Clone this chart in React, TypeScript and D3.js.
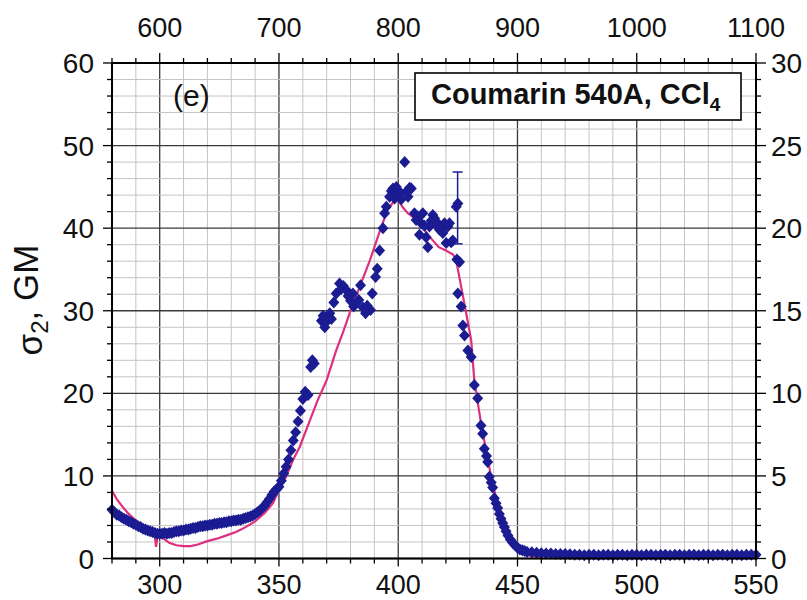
import React from "react";
import * as d3 from "d3";

const W = 807;
const H = 600;
const PL = 112, PR = 756, PT = 63, PB = 558.5;

// Axis ticks
const bottomMajor = [300, 350, 400, 450, 500, 550];
const topMajor = [600, 700, 800, 900, 1000, 1100];
const leftMajor = [0, 10, 20, 30, 40, 50, 60];
const rightMajor = [0, 5, 10, 15, 20, 25, 30];

// Measured two-photon cross section (blue diamonds): wavelength (bottom axis, nm) and sigma2 (GM)
const blueWl = [
  280, 281, 282, 283, 284, 285, 286, 287, 288, 289, 290, 291, 292, 293, 294, 295, 296, 297, 298, 299,
  300, 301, 302, 303, 304, 305, 306, 307, 308, 309, 310, 311, 312, 313, 314, 315, 316, 317, 318, 319,
  320, 321, 322, 323, 324, 325, 326, 327, 328, 329, 330, 331, 332, 333, 334, 335, 336, 337, 338, 339,
  340, 341, 342, 343, 344, 345, 346, 347, 348, 349, 350, 351, 352, 353, 354, 355, 356, 357, 358, 359,
  360, 361, 362.2, 363.3, 364, 364.8, 367.8, 368.5, 369.2, 370, 371.3, 372, 373, 374, 375.4, 376, 377,
  378.2, 379, 380, 381, 381.3, 382.3, 383.5, 384.2, 385.2, 386.3, 387, 388.4, 389.1, 390.5, 391.2,
  392.2, 393.6, 394.3, 395, 396.4, 397.1, 397.8, 398.5, 399.2, 400, 400.6, 401.3, 402.7, 403.4, 404.1,
  404.8, 405.5, 406.8, 407.5, 408.2, 408.9, 409.6, 410.3, 411, 411.7, 412.4, 413.1, 413.8, 414.5, 415.2,
  415.9, 416.6, 417.3, 418, 418.7, 419.4, 420.1, 420.8, 421.5, 422.2, 422.9, 424.3, 425, 424.6, 425.7,
  425, 426.4, 427.1, 427.8, 429.2, 430.6, 431.9, 433.3, 434.7, 435.4, 436.1, 437, 437.5, 438.2, 439,
  439.6, 440.3, 441, 441.7, 442.4, 443.1, 443.8, 444.5, 445.2, 446, 447, 448, 449, 450, 451, 452, 453,
  454, 456, 458, 460, 462, 464, 466, 468, 470, 472, 474, 476, 478, 480, 482, 484, 486, 488, 490, 492,
  494, 496, 498, 500, 502, 504, 506, 508, 510, 512, 514, 516, 518, 520, 522, 524, 526, 528, 530, 532,
  534, 536, 538, 540, 542, 544, 546, 548, 550
];
const blueSigma = [
  5.9, 5.6, 5.3, 5.2, 5.0, 4.8, 4.7, 4.5, 4.4, 4.2, 4.1, 3.9, 3.8, 3.6, 3.5, 3.4, 3.3, 3.2, 3.1, 3.0,
  3.0, 3.0, 3.1, 3.0, 3.1, 3.1, 3.2, 3.3, 3.3, 3.4, 3.4, 3.5, 3.5, 3.6, 3.7, 3.7, 3.8, 3.9, 3.9, 4.0,
  4.0, 4.1, 4.1, 4.2, 4.2, 4.3, 4.3, 4.4, 4.4, 4.5, 4.5, 4.6, 4.6, 4.7, 4.7, 4.8, 4.9, 5.0, 5.1, 5.2,
  5.4, 5.6, 5.8, 6.1, 6.4, 6.8, 7.2, 7.7, 8.1, 8.4, 8.7, 9.4, 10.3, 11.1, 12.0, 13.1, 14.3, 15.3, 16.6, 17.9,
  19.3, 20.2, 19.8, 23.2, 24.0, 23.6, 28.8, 29.4, 28.0, 28.7, 29.7, 29.0, 31.0, 32.1, 33.3, 32.6, 33.0,
  32.5, 31.8, 31.2, 32.1, 30.5, 30.9, 31.3, 33.1, 30.4, 29.7, 30.6, 30.1, 32.1, 34.1, 35.1,
  37.3, 40.0, 41.8, 42.6, 43.8, 44.5, 44.8, 43.6, 45.0, 44.6, 44.2, 43.5, 48.0, 44.4, 43.8,
  44.9, 44.8, 41.8, 41.0, 41.4, 39.2, 40.6, 41.8, 40.3, 38.9, 37.7, 40.2, 40.9, 41.6, 41.2,
  40.4, 40.6, 39.8, 40.0, 39.4, 40.6, 38.2, 40.2, 40.6, 38.3, 38.5, 42.6, 43.0, 36.2, 35.9,
  32.1, 30.5, 28.2, 27.0, 25.2, 24.4, 21.0, 19.4, 16.1, 15.1, 13.3, 12.4, 11.7, 9.9, 9.2,
  8.6, 7.3, 6.7, 6.1, 5.4, 4.8, 4.3, 3.8, 3.3, 2.8, 2.3, 1.9, 1.6, 1.3, 1.1, 1.0, 0.9,
  0.8, 0.75, 0.7, 0.65, 0.6, 0.6, 0.55, 0.55, 0.55, 0.5, 0.45, 0.45, 0.4, 0.45, 0.45, 0.4, 0.45, 0.45, 0.4, 0.45,
  0.45, 0.4, 0.45, 0.45, 0.4, 0.45, 0.45, 0.4, 0.45, 0.45, 0.4, 0.45, 0.45, 0.4, 0.45, 0.45, 0.4, 0.45, 0.45, 0.4,
  0.45, 0.45, 0.4, 0.45, 0.45, 0.4, 0.45, 0.45, 0.45
];

// Error bar
const errWl = [424.9];
const errLow = [38.1];
const errHigh = [46.8];

// Reference/fit curve (pink line)
const fitWl = [
  280, 282, 284.6, 287, 290, 293, 296, 297.8, 298.5, 299.2, 300, 302, 304, 307, 310, 313, 316, 320, 324,
  328, 332, 336, 340, 344, 347.5, 350, 353, 356, 358.7, 362, 366, 370, 374, 377, 380, 384, 388, 392,
  395.5, 398, 400, 402, 404, 407, 410, 413, 417, 420, 423, 424.3, 426, 428.5, 430.6, 431.9, 434.7,
  438.2, 440, 443.7, 446, 448, 450, 453, 456, 460
];
const fitSigma = [
  8.2, 7.2, 6.2, 5.4, 4.6, 3.9, 3.3, 3.0, 1.4, 3.0, 2.9, 2.3, 1.9, 1.6, 1.5, 1.5, 1.7, 2.1, 2.4,
  2.8, 3.2, 3.8, 4.5, 5.5, 6.7, 8.3, 9.9, 12.0, 13.5, 16.0, 19.0, 21.6, 25.2, 27.5, 30.0, 33.0, 36.0, 39.4,
  42.2, 43.2, 43.4, 42.5, 41.8, 41.2, 40.2, 39.0, 37.7, 37.3, 36.8, 36.1, 33.5, 29.7, 26.4, 21.6, 16.4,
  11.0, 8.5, 4.6, 2.8, 1.7, 1.0, 0.5, 0.3, 0.2
];

const FONT = "Arial, 'Liberation Sans', Helvetica, sans-serif";
const BLUE = "#1b1b92";
const PINK = "#de2f7f";

export default function App() {
  const x = d3.scaleLinear().domain([280, 550]).range([PL, PR]);
  const xTop = d3.scaleLinear().domain([560, 1100]).range([PL, PR]);
  const y = d3.scaleLinear().domain([0, 60]).range([PB, PT]);
  const yR = d3.scaleLinear().domain([0, 30]).range([PB, PT]);

  const xMinor = d3.range(280, 551, 10);
  const topMinor = d3.range(560, 1101, 20);
  const yMinor = d3.range(0, 61, 2);
  const yRMinor = d3.range(0, 31, 1);

  const line = d3
    .line<number>()
    .x((_, i) => x(fitWl[i]))
    .y((d) => y(d))
    .curve(d3.curveLinear);

  const diamond = "M0,-6L5.5,0L0,6L-5.5,0Z";

  return (
    <svg width={W} height={H} style={{ display: "block", position: "absolute", left: 0, top: 0 }}>
      <rect x={0} y={0} width={W} height={H} fill="#ffffff" />
      {/* grid */}
      {xMinor.map((v) => (
        <line key={"gx" + v} x1={x(v)} x2={x(v)} y1={PT} y2={PB}
          stroke={v % 50 === 0 ? "#3a3a3a" : "#c4c4c4"} strokeWidth={v % 50 === 0 ? 1.3 : 1} />
      ))}
      {yMinor.map((v) => (
        <line key={"gy" + v} x1={PL} x2={PR} y1={y(v)} y2={y(v)}
          stroke={v % 10 === 0 ? "#3a3a3a" : "#c4c4c4"} strokeWidth={v % 10 === 0 ? 1.3 : 1} />
      ))}

      {/* fit line */}
      <path d={line(fitSigma) || ""} fill="none" stroke={PINK} strokeWidth={2.2} />

      {/* error bar */}
      {errWl.map((w, i) => (
        <g key={"err" + i} stroke={BLUE} strokeWidth={1.5}>
          <line x1={x(w)} x2={x(w)} y1={y(errLow[i])} y2={y(errHigh[i])} />
          <line x1={x(w) - 5} x2={x(w) + 5} y1={y(errHigh[i])} y2={y(errHigh[i])} />
          <line x1={x(w) - 5} x2={x(w) + 5} y1={y(errLow[i])} y2={y(errLow[i])} />
        </g>
      ))}

      {/* data points */}
      {blueWl.map((w, i) => (
        <path key={"p" + i} d={diamond} transform={`translate(${x(w)},${y(blueSigma[i])})`} fill={BLUE} />
      ))}

      {/* frame */}
      <rect x={PL} y={PT} width={PR - PL} height={PB - PT} fill="none" stroke="#000" strokeWidth={2} />

      {/* bottom ticks */}
      {xMinor.map((v) => (
        <line key={"bt" + v} x1={x(v)} x2={x(v)} y1={PB} y2={PB + (v % 50 === 0 ? 8 : 5)} stroke="#000" strokeWidth={1.3} />
      ))}
      {bottomMajor.map((v) => (
        <text key={"bl" + v} x={x(v)} y={594} textAnchor="middle" fontFamily={FONT} fontSize={27} fill="#111">{v}</text>
      ))}
      {/* top ticks */}
      {topMinor.map((v) => (
        <line key={"tt" + v} x1={xTop(v)} x2={xTop(v)} y1={PT} y2={PT - (v % 100 === 0 ? 10 : 5)} stroke="#000" strokeWidth={1.3} />
      ))}
      {topMajor.map((v) => (
        <text key={"tl" + v} x={xTop(v)} y={37} textAnchor="middle" fontFamily={FONT} fontSize={27} fill="#111">{v}</text>
      ))}
      {/* left ticks */}
      {yMinor.map((v) => (
        <line key={"lt" + v} x1={PL} x2={PL - (v % 10 === 0 ? 9 : 5)} y1={y(v)} y2={y(v)} stroke="#000" strokeWidth={1.3} />
      ))}
      {leftMajor.map((v) => (
        <text key={"ll" + v} x={94} y={y(v)} dy="0.36em" textAnchor="end" fontFamily={FONT} fontSize={28} fill="#111">{v}</text>
      ))}
      {/* right ticks */}
      {yRMinor.map((v) => (
        <line key={"rt" + v} x1={PR} x2={PR + (v % 5 === 0 ? 10 : 5)} y1={yR(v)} y2={yR(v)} stroke="#000" strokeWidth={1.3} />
      ))}
      {rightMajor.map((v) => (
        <text key={"rl" + v} x={771} y={yR(v)} dy="0.36em" textAnchor="start" fontFamily={FONT} fontSize={28} fill="#111">{v}</text>
      ))}

      {/* y title */}
      <text transform="translate(38,300) rotate(-90)" textAnchor="middle" fontFamily={FONT} fontSize={35} fill="#111">
        <tspan dy="4">σ</tspan>
        <tspan fontSize={24} dy="6">2</tspan>
        <tspan dy="-10">, GM</tspan>
      </text>

      {/* panel label */}
      <text x={173} y={106} fontFamily={FONT} fontSize={30} fill="#111">(e)</text>

      {/* legend box */}
      <rect x={415} y={73} width={326} height={47} fill="#fff" stroke="#000" strokeWidth={1.6} />
      <text x={431} y={104} fontFamily={FONT} fontSize={29} fontWeight="bold" fill="#111">
        Coumarin 540A, CCl<tspan fontSize={19} dy="7">4</tspan>
      </text>
    </svg>
  );
}
